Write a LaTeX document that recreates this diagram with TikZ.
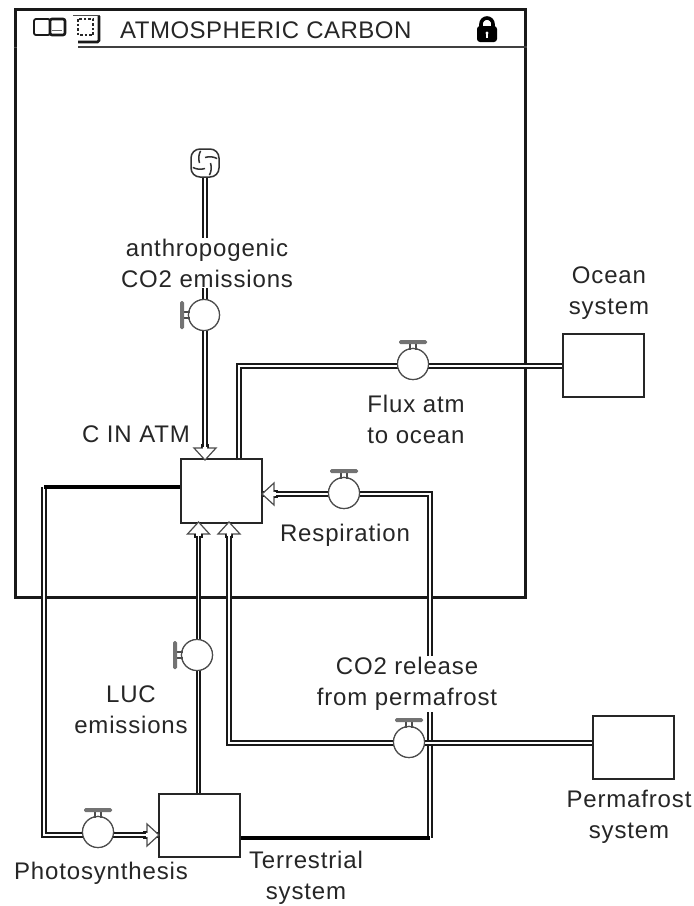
\documentclass[tikz,border=0pt]{standalone}
\usepackage{fontspec}
\setmainfont{Liberation Sans}
\newfontfamily\labfont[LetterSpace=3.5]{Liberation Sans}
\newfontfamily\titlefont[LetterSpace=2]{Liberation Sans}
\begin{document}
\begin{tikzpicture}[x=1pt,y=-1pt,
  flow/.style={draw=black!90,line width=1.6pt,double=white,double distance=1.9pt},
  solidflow/.style={draw=black,line width=4pt},
  stockbox/.style={draw=black!85,line width=1.2pt,fill=white,minimum width=81pt,minimum height=63pt,inner sep=0pt},
  valvec/.style={circle,draw=black!70,line width=1.2pt,fill=white,minimum size=31pt,inner sep=0pt},
  lab/.style={font=\labfont\fontsize{24}{31}\selectfont,align=center,text=black!85,inner sep=1pt,fill=white},
  head/.style={draw=black!70,line width=1.2pt,fill=white,line join=miter}]
\newcommand{\flowhead}[3]{\path[head,shift={(#1,#2)},rotate=#3] (0,0) -- (-12,-11) -- (-12,11) -- cycle;
  \fill[white,shift={(#1,#2)},rotate=#3] (-13.5,-2.4) rectangle (-11,2.4);
  \draw[black!90,line width=1.6pt,shift={(#1,#2)},rotate=#3] (-12,-3.4) -- (-16,-3.4) (-12,3.4) -- (-16,3.4);}
\newcommand{\valvehandle}[3]{\begin{scope}[shift={(#1,#2)},rotate=#3]
  \draw[black!70,line width=1.1pt] (-3,-20) -- (-3,-14) (3,-20) -- (3,-14);
  \fill[black!55,rounded corners=1.5pt] (-14,-24) rectangle (14,-20);
  \end{scope}}
\useasboundingbox (0,0) rectangle (694,906);
\fill[white] (0,0) rectangle (694,906);
% frame
\node[draw=black!90,line width=3pt,minimum width=510pt,minimum height=588pt,inner sep=0pt] (frame) at (270,303) {};
\coordinate (rule1) at (78,47);
\coordinate (rule2) at (frame.east |- rule1);
\draw[black!75,line width=1.6pt] (rule1) -- (rule2);
\draw[black!70,line width=1pt] (frame.west |- rule1) -- ++(3,0);
% title icons
\draw[black!90,line width=1.8pt,rounded corners=2pt] (34,19) rectangle (50,35);
\draw[black!90,line width=2.6pt,rounded corners=2pt] (50,19) rectangle (65,35);
\draw[black!60,line width=1pt] (52,30) -- (62,30);
\draw[black!85,line width=1.4pt,dashed,dash pattern=on 2.5pt off 2pt] (78,19) rectangle (93,35);
\draw[black!70,line width=.9pt] (73,15) -- (100,15);
\draw[black!90,line width=2.8pt,rounded corners=1.5pt] (99,16) -- (99,42) -- (78,42);
% lock
\fill[black,rounded corners=3pt] (477,26) rectangle (497,42);
\draw[black,line width=3.6pt] (481,28) -- (481,24) arc (180:0:6pt) -- (493,28);
\fill[white] (487,33) circle (1.7pt);
\fill[white] (486.2,33) rectangle (487.8,38);
\node[lab,anchor=west,fill=none,font=\titlefont\fontsize{24}{31}\selectfont] (title) at (119,30) {ATMOSPHERIC CARBON};
% stocks
\node[stockbox] (catm) at (221.5,491) {};
\node[stockbox] (terr) at (199.5,825.5) {};
\node[stockbox] (ocean) at (603.5,365.5) {};
\node[stockbox] (perm) at (633.5,747.5) {};
% valves and source
\node[valvec] (vanth) at (204,315) {};
\node[valvec] (vflux) at (413,364) {};
\node[valvec] (vresp) at (344,493) {};
\node[valvec] (vluc) at (197,655) {};
\node[valvec] (vperm) at (409,742) {};
\node[valvec] (vphot) at (98,832) {};
\node[rectangle,rounded corners=9pt,draw=black!80,line width=1.5pt,fill=white,minimum size=28pt,inner sep=0pt] (cloud) at (205,163) {};
% bends
\coordinate (fluxb) at (239,366);
\coordinate (photA) at (44,487);
\coordinate (photB) at (44,835);
\coordinate (respA) at (430,494);
\coordinate (termB) at (430,838);
\coordinate (permA) at (229,743);
\coordinate (t1) at (205,460);
\coordinate (t2) at (198.5,522);
\coordinate (t3) at (229,522);
\coordinate (t4) at (262,494);
\coordinate (t5) at (159,835);
% flows
\draw[flow] (cloud.south) -- (205,300);
\draw[flow] (vanth.south -| t1) -- (t1);
\draw[flow] (239,460) -- (fluxb) -- (ocean.west |- fluxb);
\draw[flow] (photA) -- (photB) -- (t5);
\draw[solidflow] (catm.west |- photA) -- (photA);
\draw[flow] (vresp.east |- t4) -- (respA) -- (termB);
\draw[flow] (vresp.west |- t4) -- (t4);
\draw[solidflow] (terr.east |- termB) -- (termB);
\draw[flow] (198.5,794) -- (t2);
\draw[flow] (t3) -- (permA) -- (perm.west |- permA);
% redraw valves above flows
\node[valvec] at (vanth) {};
\node[valvec] at (vflux) {};
\node[valvec] at (vresp) {};
\node[valvec] at (vluc) {};
\node[valvec] at (vperm) {};
\node[valvec] at (vphot) {};
\draw[black!85,line width=1.2pt] (catm.north west) rectangle (catm.south east);
\draw[black!85,line width=1.2pt] (terr.north west) rectangle (terr.south east);
\flowhead{205}{460}{-90}
\flowhead{262}{494}{180}
\flowhead{198.5}{522}{90}
\flowhead{229}{522}{90}
\flowhead{159}{835}{0}
\valvehandle{204}{315}{90}
\valvehandle{413}{364}{0}
\valvehandle{344}{493}{0}
\valvehandle{197}{655}{90}
\valvehandle{409}{742}{0}
\valvehandle{98}{832}{0}
% cloud swirl
\begin{scope}[shift={(cloud)}]
\foreach \a in {20,110,200,290}
  \draw[black!80,line width=1.5pt] (\a:13pt) to[bend right=20] (\a+70:5.5pt);
\end{scope}
% labels
\node[lab] (lanth) at (207,263) {anthropogenic\\CO2 emissions};
\node[lab,fill=none] (lcatm) at (136,434) {C IN ATM};
\node[lab] (locean) at (609,293) {Ocean\\system};
\node[lab] (lflux) at (416,419) {Flux atm\\to ocean};
\node[lab] (lresp) at (345,535) {Respiration};
\node[lab] (lco2) at (407,684) {CO2 release\\from permafrost};
\node[lab] (lluc) at (131,710) {LUC\\emissions};
\node[lab] (lphot) at (101,873) {Photosynthesis};
\node[lab] (lterr) at (306,878) {Terrestrial\\system};
\node[lab] (lperm) at (629,817) {Permafrost\\system};
\end{tikzpicture}
\end{document}
